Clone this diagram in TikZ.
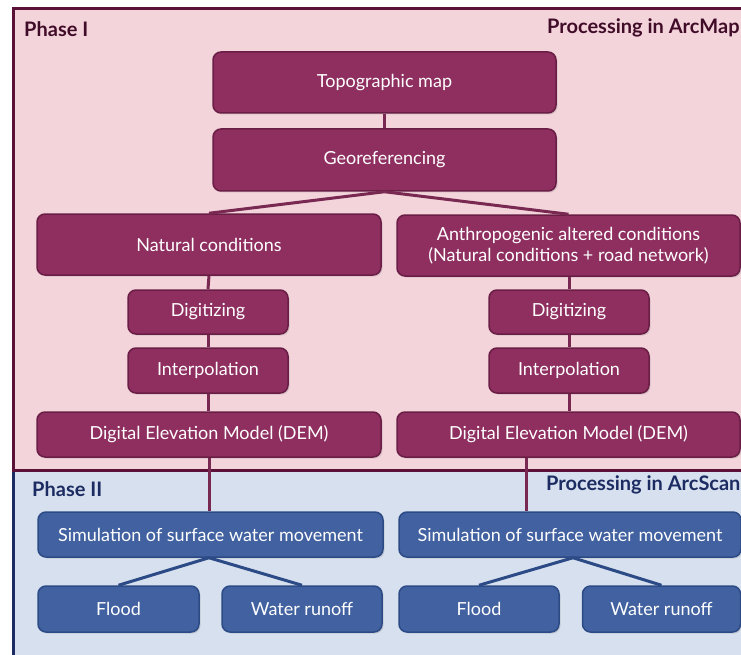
\documentclass[tikz,border=0pt]{standalone}
\usepackage{fontspec}
\setmainfont{Lato}
\usetikzlibrary{shadows}
\definecolor{pinkbg}{HTML}{F3D4DB}
\definecolor{bluebg}{HTML}{D7E0EE}
\definecolor{maroon}{HTML}{8E2F60}
\definecolor{maroonedge}{HTML}{6A1D45}
\definecolor{framemaroon}{HTML}{5C1238}
\definecolor{bluebox}{HTML}{4161A0}
\definecolor{blueedge}{HTML}{2C4A85}
\definecolor{navy}{HTML}{1C2C62}
\definecolor{phasetext}{HTML}{400C28}
\tikzset{
  mbox/.style={draw=maroonedge, line width=1.5pt, fill=maroon, rounded corners=8pt,
    text=white, font=\fontsize{18}{21.5}\selectfont, align=center, inner sep=0pt,
    drop shadow={opacity=0.25, shadow xshift=1.5pt, shadow yshift=-1.5pt}},
  bbox/.style={draw=blueedge, line width=1.5pt, fill=bluebox, rounded corners=8pt,
    text=white, font=\fontsize{18}{21.5}\selectfont, align=center, inner sep=0pt,
    drop shadow={opacity=0.25, shadow xshift=1.5pt, shadow yshift=-1.5pt}},
  mline/.style={draw=maroon!85!black, line width=3pt},
  bline/.style={draw=blueedge, line width=3pt},
  headtext/.style={font=\bfseries\fontsize{20}{24}\selectfont, anchor=west, inner sep=0pt},
}
\begin{document}
\begin{tikzpicture}[x=1pt,y=-1pt]
\clip (0,0) rectangle (741,655);
\fill[white] (0,0) rectangle (741,655);
% backgrounds
\fill[pinkbg] (13,9) rectangle (760,470);
\fill[bluebg] (13,470) rectangle (760,670);
\draw[framemaroon, line width=3pt] (760,9) -- (13,9) -- (13,470) -- (760,470);
\draw[navy, line width=3pt] (13,471.5) -- (13,670);
% headings
\node[headtext, text=phasetext] (ph1) at (24,29) {Phase I};
\node[headtext, text=phasetext] (pa1) at (547,28) {Processing in ArcMap};
\node[headtext, text=navy] (ph2) at (32,489) {Phase II};
\node[headtext, text=navy] (pa2) at (546,485) {Processing in ArcScan};
% phase I boxes
\node[mbox, minimum width=343pt, minimum height=61pt] (topo) at (384.5,82.5) {Topographic map};
\node[mbox, minimum width=343pt, minimum height=62pt] (geo) at (384.5,160) {Georeferencing};
\node[mbox, minimum width=344pt, minimum height=61pt] (nat) at (209,244.5) {Natural conditions};
\node[mbox, minimum width=343pt, minimum height=61pt] (anth) at (568.5,245.5) {Anthropogenic altered conditions\\(Natural conditions + road network)};
\node[mbox, minimum width=160pt, minimum height=44pt] (dig1) at (208,312) {Digitizing};
\node[mbox, minimum width=160pt, minimum height=45pt] (int1) at (208,370.5) {Interpolation};
\node[mbox, minimum width=160pt, minimum height=44pt] (dig2) at (569,312) {Digitizing};
\node[mbox, minimum width=160pt, minimum height=45pt] (int2) at (569,370.5) {Interpolation};
\node[mbox, minimum width=344pt, minimum height=45pt] (dem1) at (209,434.5) {Digital Elevation Model (DEM)};
\node[mbox, minimum width=343pt, minimum height=45pt] (dem2) at (568.5,434.5) {Digital Elevation Model (DEM)};
% phase II boxes
\node[bbox, minimum width=345pt, minimum height=45pt] (sim1) at (210.5,534.5) {Simulation of surface water movement};
\node[bbox, minimum width=342pt, minimum height=45pt] (sim2) at (570,534.5) {Simulation of surface water movement};
\node[bbox, minimum width=161pt, minimum height=46pt] (fl1) at (118.5,609) {Flood};
\node[bbox, minimum width=160pt, minimum height=46pt] (ru1) at (302,609) {Water runoff};
\node[bbox, minimum width=160pt, minimum height=46pt] (fl2) at (479,609) {Flood};
\node[bbox, minimum width=158pt, minimum height=46pt] (ru2) at (661.5,609) {Water runoff};
% connectors
\draw[mline] (topo.south) -- (geo.north);
\draw[mline] (geo.south) -- (nat.north);
\draw[mline] (geo.south) -- (anth.north);
\draw[mline] (nat.south) -- (dig1.north);
\draw[mline] (dig1.south) -- (int1.north);
\draw[mline] (int1.south) -- (dem1.north -| int1.south);
\draw[mline] (anth.south -| dig2.north) -- (dig2.north);
\draw[mline] (dig2.south) -- (int2.north);
\draw[mline] (int2.south) -- (dem2.north -| int2.south);
\draw[mline] (dem1.south) -- (sim1.north -| dem1.south);
\coordinate (j2) at (526,457);
\draw[mline] (dem2.south -| j2) -- (sim2.north -| j2);
\draw[bline] (sim1.south -| dem1.south) -- (fl1.north);
\draw[bline] (sim1.south -| dem1.south) -- (ru1.north);
\coordinate (j3) at (573,557);
\draw[bline] (sim2.south -| j3) -- (fl2.north);
\draw[bline] (sim2.south -| j3) -- (ru2.north);
\end{tikzpicture}
\end{document}
